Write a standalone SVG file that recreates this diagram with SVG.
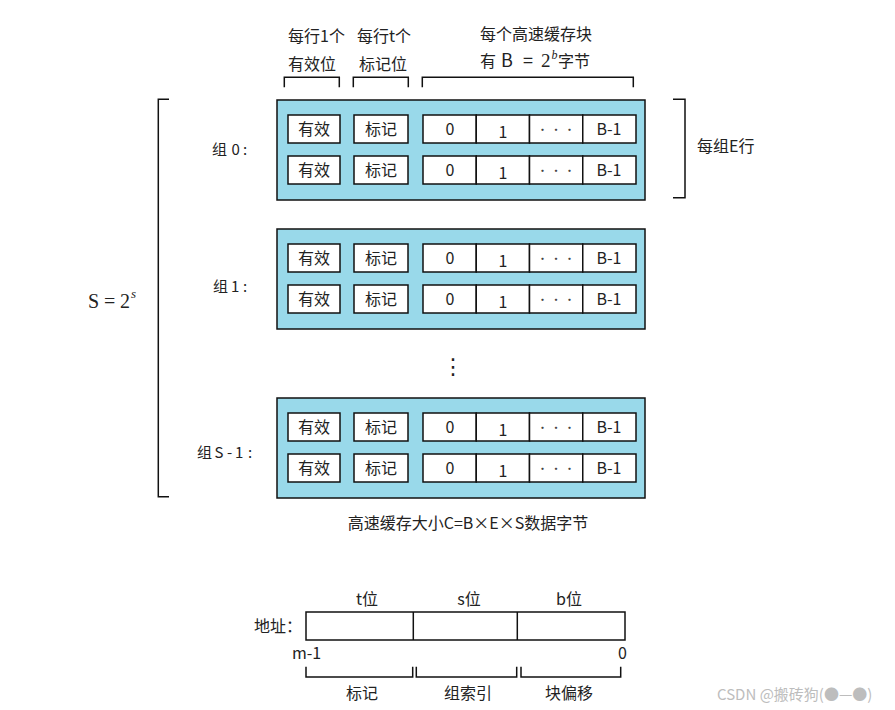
<svg xmlns="http://www.w3.org/2000/svg" width="895" height="710" viewBox="0 0 895 710">
<style>
  text { font-family: "Noto Sans CJK SC", "Noto Sans", sans-serif; fill: #222; }
  .lbl { font-size: 16px; }
  .grp { font-size: 15px; }
  .ct { font-size: 16px; text-anchor: middle; }
  .c { text-anchor: middle; }
  .math { font-family: "Liberation Serif", "DejaVu Serif", serif; }
  .set { fill: #99D9EA; stroke: #111; stroke-width: 1.5; }
  .cell { fill: #fff; stroke: #111; stroke-width: 1.5; }
  .br { fill: none; stroke: #111; stroke-width: 1.5; }
  .dots { font-size: 11px; text-anchor: middle; fill: #444; }
  .wm { font-size: 15px; fill: #bdbdbd; }
</style>
<defs>
  <g id="row">
    <rect class="cell" x="288" y="0" width="52" height="28"/>
    <text class="ct" x="314" y="20">有效</text>
    <rect class="cell" x="354" y="0" width="54" height="28"/>
    <text class="ct" x="381" y="20">标记</text>
    <rect class="cell" x="423" y="0" width="53.25" height="28"/>
    <rect class="cell" x="476.25" y="0" width="53.25" height="28"/>
    <rect class="cell" x="529.5" y="0" width="53.25" height="28"/>
    <rect class="cell" x="582.75" y="0" width="53.25" height="28"/>
    <text class="ct" x="450" y="20">0</text>
    <text class="ct" x="503" y="22.5">1</text>
    <text class="dots" x="556" y="18.5">·  ·  ·</text>
    <text class="ct" x="609" y="20">B-1</text>
  </g>
</defs>

<!-- top annotations -->
<g id="label-valid">
  <text class="lbl" x="288" y="42">每行1个</text>
  <text class="lbl" x="288" y="70">有效位</text>
</g>
<g id="label-tag">
  <text class="lbl" x="357" y="42">每行t个</text>
  <text class="lbl" x="359" y="70">标记位</text>
</g>
<g id="label-block">
  <text class="lbl" x="480" y="40">每个高速缓存块</text>
  <text class="lbl" y="67"><tspan x="480">有</tspan><tspan x="501" style="font-size:18px">B</tspan><tspan x="523" style="font-size:18px">=</tspan><tspan class="math" x="541" style="font-size:19px">2</tspan><tspan class="math" x="551.5" y="59" style="font-size:12px;font-style:italic">b</tspan><tspan x="558" y="67">字节</tspan></text>
</g>

<!-- set 0 -->
<g id="set0">
  <rect class="set" x="277" y="100" width="368" height="100"/>
  <use href="#row" y="115"/>
  <use href="#row" y="156"/>
  <text class="grp" y="155"><tspan x="212">组</tspan><tspan x="231.5">0</tspan><tspan x="243">:</tspan></text>
</g>

<!-- set 1 -->
<g id="set1">
  <rect class="set" x="277" y="229" width="368" height="100"/>
  <use href="#row" y="244"/>
  <use href="#row" y="285"/>
  <text class="grp" y="292"><tspan x="213">组</tspan><tspan x="231">1</tspan><tspan x="243">:</tspan></text>
</g>

<g id="ellipsis">
  <text x="453" y="374" style="font-family:'DejaVu Sans',sans-serif;font-size:22px;text-anchor:middle">⋮</text>
</g>

<!-- set S-1 -->
<g id="setS1">
  <rect class="set" x="277" y="398" width="368" height="100"/>
  <use href="#row" y="413"/>
  <use href="#row" y="454"/>
  <text class="grp" y="458"><tspan x="197">组</tspan><tspan x="214.5">S</tspan><tspan x="227">-</tspan><tspan x="235">1</tspan><tspan x="248">:</tspan></text>
</g>

<g id="label-E">
  <text class="lbl" x="697" y="152">每组E行</text>
</g>

<g id="label-S">
  <text class="math" y="308" style="font-size:20px"><tspan x="88">S</tspan><tspan x="104">=</tspan><tspan x="120">2</tspan><tspan x="131" y="298" style="font-size:13px;font-style:italic">s</tspan></text>
</g>

<g id="caption">
  <text class="lbl c" x="468" y="529">高速缓存大小C=B×E×S数据字节</text>
</g>

<!-- address -->
<g id="address">
  <text class="lbl" x="254" y="632">地址：</text>
  <rect class="cell" x="306" y="612" width="319" height="28"/>
  <line class="br" x1="413.3" y1="612" x2="413.3" y2="640"/>
  <line class="br" x1="517.3" y1="612" x2="517.3" y2="640"/>
  <text class="lbl c" x="367" y="605">t位</text>
  <text class="lbl c" x="469" y="605">s位</text>
  <text class="lbl c" x="569" y="605">b位</text>
  <text class="lbl" x="292" y="659">m-1</text>
  <text class="lbl" x="618" y="659">0</text>
  <text class="lbl c" x="362" y="699">标记</text>
  <text class="lbl c" x="468" y="699">组索引</text>
  <text class="lbl c" x="569" y="699">块偏移</text>
</g>

<!-- brackets -->
<g id="connectors">
  <polyline class="br" points="284.3,87.3 284.3,77.3 339.3,77.3 339.3,87.3"/>
  <polyline class="br" points="353.3,87.3 353.3,77.3 408.3,77.3 408.3,87.3"/>
  <polyline class="br" points="422.3,87.3 422.3,77.3 633.3,77.3 633.3,87.3"/>
  <polyline class="br" points="673,99.3 685,99.3 685,197.7 673,197.7"/>
  <polyline class="br" points="169,99.3 158.3,99.3 158.3,496.7 169,496.7"/>
  <polyline class="br" points="306,666.7 306,677 412.7,677 412.7,666.7"/>
  <polyline class="br" points="416.3,666.7 416.3,677 516.7,677 516.7,666.7"/>
  <polyline class="br" points="521,666.7 521,677 620.7,677 620.7,666.7"/>
</g>

<g id="watermark">
  <text class="wm" x="717" y="700">CSDN @搬砖狗(●—●)</text>
</g>
</svg>
